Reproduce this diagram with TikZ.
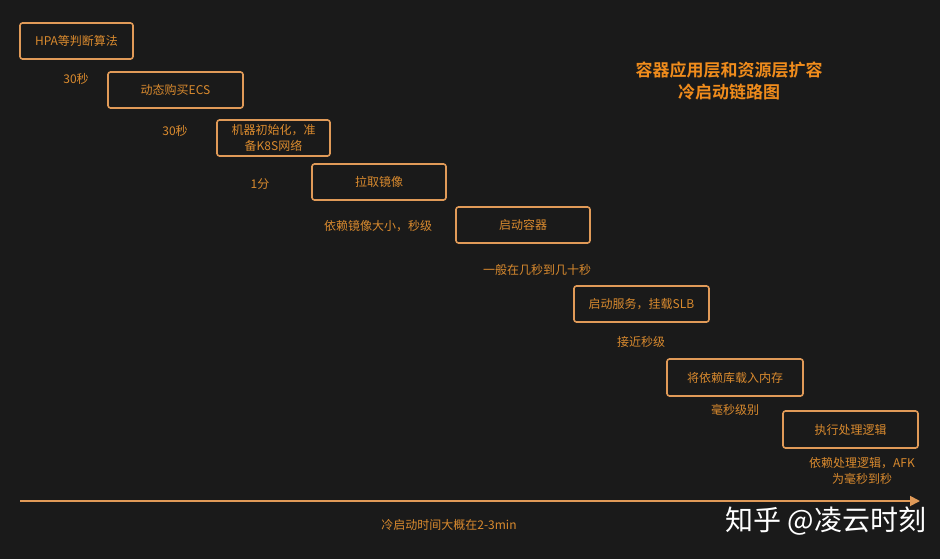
\documentclass[tikz,border=0pt]{standalone}
\usepackage{fontspec}
\setmainfont{Noto Sans CJK SC}
\newfontfamily\cjkbold{Noto Sans CJK SC Bold}
\usetikzlibrary{arrows.meta}
\definecolor{bg}{HTML}{1A1A1A}
\definecolor{boxline}{HTML}{E09A58}
\definecolor{txt}{HTML}{D98A2E}
\definecolor{ttl}{HTML}{F08C1C}
\tikzset{
  stepbox/.style={draw=boxline, line width=1.6pt, rounded corners=2.5pt, text=txt,
    font=\fontsize{12}{16}\selectfont, align=center, inner sep=0pt},
  lbl/.style={text=txt, font=\fontsize{12}{16}\selectfont, align=center, inner sep=0pt},
}
\begin{document}
\begin{tikzpicture}[x=1pt,y=-1pt]
\fill[bg] (0,0) rectangle (940,559);
\useasboundingbox (0,0) rectangle (940,559);
\node[stepbox, minimum width=113pt, minimum height=36pt] (b1) at (76.5,41) {HPA等判断算法};
\node[stepbox, minimum width=135pt, minimum height=36pt] (b2) at (175.5,90) {动态购买ECS};
\node[stepbox, minimum width=113pt, minimum height=36pt] (b3) at (273.5,138) {机器初始化，准\\备K8S网络};
\node[stepbox, minimum width=134pt, minimum height=36pt] (b4) at (379,182) {拉取镜像};
\node[stepbox, minimum width=134pt, minimum height=36pt] (b5) at (523,225) {启动容器};
\node[stepbox, minimum width=135pt, minimum height=36pt] (b6) at (641.5,304) {启动服务，挂载SLB};
\node[stepbox, minimum width=136pt, minimum height=37pt] (b7) at (735,377.5) {将依赖库载入内存};
\node[stepbox, minimum width=135pt, minimum height=37pt] (b8) at (850.5,429.5) {执行处理逻辑};
\node[lbl] (l1) at (76,79) {30秒};
\node[lbl] (l2) at (175,131) {30秒};
\node[lbl] (l3) at (260,184) {1分};
\node[lbl] (l4) at (378,226) {依赖镜像大小，秒级};
\node[lbl] (l5) at (537,270) {一般在几秒到几十秒};
\node[lbl] (l6) at (641,342) {接近秒级};
\node[lbl] (l7) at (735,410) {毫秒级别};
\node[lbl] (l8) at (862,471) {依赖处理逻辑，AFK\\为毫秒到秒};
\node[text=ttl, font=\cjkbold\fontsize{17}{22}\selectfont, align=center, inner sep=0pt] (title) at (729,81) {容器应用层和资源层扩容\\冷启动链路图};
\coordinate (a0) at (20,501);
\coordinate (a1) at (920,501);
\draw[boxline, line width=1.8pt, -{Triangle[length=10pt,width=10pt]}] (a0) -- (a1);
\node[lbl] (axl) at (449,525) {冷启动时间大概在2-3min};
\node[text=white, font=\fontsize{28}{32}\selectfont, inner sep=0pt] (wm) at (826,521) {知乎 @凌云时刻};
\end{tikzpicture}
\end{document}
